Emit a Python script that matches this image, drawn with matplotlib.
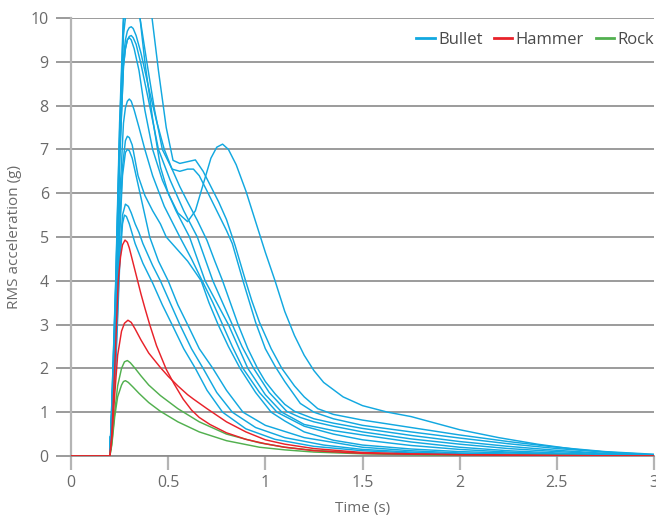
import numpy as np
import matplotlib
matplotlib.use('Agg')
import matplotlib.pyplot as plt

plt.rcParams['font.family'] = ['Open Sans', 'DejaVu Sans']

# ---------------------------------------------------------------
# Data: (time [s], RMS acceleration [g])
# ---------------------------------------------------------------

# Bullet impacts
bullet_bump_t = [0, 0.2, 0.21, 0.23, 0.25, 0.27, 0.285, 0.3, 0.315, 0.33, 0.355, 0.38, 0.42, 0.46, 0.5,
                 0.55, 0.6, 0.64, 0.68, 0.72, 0.75, 0.78, 0.81, 0.85, 0.9, 0.95, 0.975, 1.0, 1.05,
                 1.1, 1.15, 1.2, 1.25, 1.3, 1.4, 1.5, 1.63, 1.75, 1.9, 2.0, 2.2, 2.4, 2.6, 2.8, 3.0]
bullet_bump_y = [0, 0, 1.1, 3.8, 7.2, 9.6, 10.2, 10.4, 10.4, 10.3, 10.0, 9.0, 7.7, 6.6, 6.0,
                 5.55, 5.35, 5.6, 6.2, 6.8, 7.05, 7.12, 7.0, 6.65, 6.05, 5.35, 5.0, 4.65, 4.0,
                 3.3, 2.75, 2.3, 1.95, 1.68, 1.35, 1.15, 1.0, 0.9, 0.72, 0.6, 0.42, 0.27, 0.15, 0.07, 0.02]

bullet_p1_t = [0, 0.2, 0.21, 0.23, 0.25, 0.27, 0.29, 0.33, 0.37, 0.417, 0.45, 0.49, 0.525, 0.56, 0.6,
               0.64, 0.68, 0.72, 0.76, 0.8, 0.845, 0.895, 0.93, 0.97, 1.03, 1.085, 1.15, 1.2, 1.27,
               1.35, 1.5, 1.75, 2.0, 2.25, 2.5, 2.75, 3.0]
bullet_p1_y = [0, 0, 1.2, 4.0, 7.6, 10.1, 10.9, 11.2, 10.9, 10.0, 8.8, 7.5, 6.75, 6.68, 6.72,
               6.76, 6.5, 6.15, 5.8, 5.4, 4.8, 4.05, 3.55, 3.05, 2.45, 2.0, 1.6, 1.35, 1.08,
               0.95, 0.82, 0.65, 0.48, 0.33, 0.2, 0.1, 0.04]

bullet_p2_t = [0, 0.2, 0.21, 0.23, 0.25, 0.27, 0.29, 0.32, 0.355, 0.39, 0.43, 0.47, 0.52, 0.56, 0.6,
               0.63, 0.66, 0.7, 0.75, 0.8, 0.83, 0.885, 0.95, 1.0, 1.05, 1.1, 1.18, 1.25, 1.35,
               1.5, 1.75, 2.0, 2.25, 2.5, 2.75, 3.0]
bullet_p2_y = [0, 0, 1.2, 3.9, 7.4, 9.9, 10.6, 10.7, 10.0, 9.0, 7.9, 7.0, 6.55, 6.5, 6.55,
               6.55, 6.4, 6.05, 5.6, 5.15, 4.85, 4.0, 3.05, 2.45, 2.05, 1.7, 1.2, 1.0, 0.85,
               0.7, 0.55, 0.41, 0.28, 0.17, 0.09, 0.03]

bullet_m1_t = [0, 0.2, 0.21, 0.23, 0.25, 0.27, 0.28, 0.29, 0.3, 0.31, 0.32, 0.335, 0.36, 0.4, 0.44,
               0.48, 0.52, 0.56, 0.6, 0.65, 0.7, 0.74, 0.78, 0.82, 0.86, 0.91, 0.96, 1.0, 1.05,
               1.1, 1.15, 1.25, 1.35, 1.5, 1.75, 2.0, 2.25, 2.5, 2.75, 3.0]
bullet_m1_y = [0, 0, 1.0, 3.4, 6.9, 9.1, 9.5, 9.7, 9.78, 9.8, 9.76, 9.6, 9.2, 8.4, 7.65,
               7.0, 6.55, 6.15, 5.8, 5.38, 4.92, 4.45, 4.0, 3.5, 3.0, 2.45, 2.0, 1.7, 1.42,
               1.18, 1.02, 0.85, 0.75, 0.63, 0.47, 0.33, 0.22, 0.13, 0.06, 0.02]

bullet_m2_t = [0, 0.2, 0.21, 0.23, 0.25, 0.27, 0.28, 0.29, 0.3, 0.31, 0.32, 0.335, 0.36, 0.4, 0.45,
               0.51, 0.58, 0.65, 0.69, 0.73, 0.78, 0.83, 0.88, 0.94, 1.02, 1.11, 1.18, 1.25, 1.35,
               1.5, 1.75, 2.0, 2.25, 2.5, 2.75, 3.0]
bullet_m2_y = [0, 0, 1.0, 3.3, 6.8, 8.9, 9.3, 9.5, 9.58, 9.6, 9.55, 9.4, 8.95, 8.1, 7.0,
               6.3, 5.6, 5.0, 4.5, 4.0, 3.5, 3.0, 2.5, 2.0, 1.45, 1.02, 0.88, 0.78, 0.68,
               0.55, 0.39, 0.27, 0.17, 0.1, 0.05, 0.01]

bullet_m3_t = [0, 0.2, 0.21, 0.23, 0.25, 0.27, 0.28, 0.29, 0.3, 0.31, 0.325, 0.35, 0.38, 0.42, 0.47,
               0.54, 0.61, 0.65, 0.69, 0.75, 0.81, 0.86, 0.91, 1.0, 1.085, 1.2, 1.35, 1.5, 1.75,
               2.0, 2.25, 2.5, 2.75, 3.0]
bullet_m3_y = [0, 0, 1.0, 3.3, 6.7, 8.9, 9.3, 9.5, 9.55, 9.5, 9.3, 8.8, 7.9, 7.0, 6.3,
               5.6, 5.0, 4.5, 4.0, 3.5, 3.0, 2.5, 2.0, 1.4, 1.0, 0.72, 0.58, 0.48, 0.32,
               0.2, 0.12, 0.07, 0.03, 0.01]

bullet_m4_t = [0, 0.2, 0.21, 0.23, 0.25, 0.27, 0.28, 0.29, 0.3, 0.31, 0.325, 0.35, 0.38, 0.42, 0.48,
               0.56, 0.62, 0.675, 0.73, 0.78, 0.83, 0.885, 0.97, 1.06, 1.2, 1.35, 1.5, 1.75, 2.0,
               2.25, 2.5, 3.0]
bullet_m4_y = [0, 0, 0.9, 2.9, 5.8, 7.6, 7.95, 8.1, 8.15, 8.1, 7.9, 7.5, 7.0, 6.4, 5.7,
               5.0, 4.5, 4.0, 3.5, 3.0, 2.5, 2.0, 1.45, 1.0, 0.68, 0.5, 0.37, 0.24, 0.15,
               0.09, 0.05, 0.01]

bullet_kink_t = [0, 0.2, 0.21, 0.23, 0.25, 0.265, 0.28, 0.29, 0.3, 0.315, 0.345, 0.38, 0.42, 0.46, 0.49,
                 0.55, 0.6, 0.67, 0.71, 0.757, 0.81, 0.87, 0.95, 1.03, 1.1, 1.2, 1.35, 1.5, 1.75,
                 2.0, 2.5, 3.0]
bullet_kink_y = [0, 0, 0.8, 2.6, 5.2, 6.6, 7.2, 7.3, 7.27, 7.1, 6.4, 5.95, 5.6, 5.3, 5.0,
                 4.7, 4.45, 4.0, 3.5, 3.0, 2.5, 2.0, 1.45, 1.0, 0.8, 0.55, 0.36, 0.25, 0.16,
                 0.1, 0.04, 0.01]

bullet_l1_t = [0, 0.2, 0.21, 0.23, 0.25, 0.265, 0.28, 0.29, 0.3, 0.315, 0.35, 0.405, 0.45, 0.5, 0.55,
               0.6, 0.66, 0.73, 0.8, 0.885, 1.0, 1.2, 1.5, 1.75, 2.0, 2.5, 3.0]
bullet_l1_y = [0, 0, 0.8, 2.5, 5.0, 6.4, 6.93, 7.0, 6.97, 6.8, 6.1, 5.0, 4.45, 4.0, 3.45,
               3.0, 2.45, 2.0, 1.5, 1.0, 0.7, 0.42, 0.2, 0.12, 0.07, 0.02, 0.0]

bullet_l2_t = [0, 0.2, 0.202, 0.206, 0.21, 0.23, 0.25, 0.265, 0.28, 0.295, 0.31, 0.33, 0.35, 0.37, 0.42,
               0.46, 0.51, 0.56, 0.62, 0.68, 0.75, 0.83, 0.95, 1.1, 1.3, 1.5, 1.75, 2.0, 2.5, 3.0]
bullet_l2_y = [0, 0, 0.45, 0.15, 0.6, 2.2, 4.5, 5.5, 5.75, 5.7, 5.55, 5.3, 5.1, 4.85, 4.35,
               4.0, 3.5, 3.0, 2.45, 2.0, 1.45, 1.0, 0.65, 0.42, 0.25, 0.15, 0.09, 0.05, 0.02, 0.0]

bullet_l3_t = [0, 0.2, 0.21, 0.23, 0.25, 0.265, 0.275, 0.285, 0.3, 0.33, 0.37, 0.42, 0.47, 0.52, 0.58,
               0.64, 0.7, 0.78, 0.9, 1.05, 1.25, 1.5, 1.75, 2.0, 2.5, 3.0]
bullet_l3_y = [0, 0, 0.6, 2.0, 4.3, 5.3, 5.5, 5.47, 5.3, 4.85, 4.4, 3.95, 3.45, 3.0, 2.45,
               2.0, 1.5, 1.0, 0.62, 0.38, 0.22, 0.12, 0.07, 0.04, 0.01, 0.0]

# Hammer impacts
hammer_1_t = [0, 0.2, 0.21, 0.226, 0.243, 0.255, 0.265, 0.278, 0.29, 0.3, 0.32, 0.34, 0.36, 0.38, 0.405,
              0.44, 0.49, 0.53, 0.577, 0.62, 0.66, 0.715, 0.8, 0.9, 1.0, 1.1, 1.25, 1.5, 1.75, 2.0,
              2.5, 3.0]
hammer_1_y = [0, 0, 0.5, 2.1, 4.0, 4.55, 4.82, 4.93, 4.88, 4.75, 4.4, 4.05, 3.7, 3.38, 3.0,
              2.52, 1.98, 1.65, 1.3, 1.05, 0.88, 0.72, 0.53, 0.38, 0.28, 0.2, 0.12, 0.06, 0.04, 0.03,
              0.01, 0.0]

hammer_2_t = [0, 0.2, 0.21, 0.225, 0.24, 0.26, 0.275, 0.293, 0.31, 0.33, 0.36, 0.4, 0.46, 0.5, 0.55,
              0.6, 0.63, 0.7, 0.8, 0.9, 1.0, 1.1, 1.25, 1.5, 1.75, 2.0, 2.5, 3.0]
hammer_2_y = [0, 0, 0.4, 1.4, 2.3, 2.85, 3.03, 3.1, 3.05, 2.9, 2.65, 2.35, 2.02, 1.82, 1.6,
              1.4, 1.3, 1.08, 0.78, 0.55, 0.37, 0.27, 0.17, 0.08, 0.05, 0.03, 0.01, 0.0]

# Rock impacts
rock_1_t = [0, 0.2, 0.21, 0.225, 0.24, 0.26, 0.275, 0.29, 0.305, 0.33, 0.36, 0.4, 0.46, 0.55, 0.66,
            0.8, 0.97, 1.1, 1.25, 1.5, 1.75, 2.0, 3.0]
rock_1_y = [0, 0, 0.3, 1.0, 1.6, 2.0, 2.15, 2.18, 2.13, 2.0, 1.83, 1.62, 1.38, 1.08, 0.78,
            0.5, 0.3, 0.2, 0.13, 0.07, 0.04, 0.02, 0.0]

rock_2_t = [0, 0.2, 0.21, 0.225, 0.24, 0.26, 0.27, 0.28, 0.295, 0.32, 0.35, 0.4, 0.46, 0.55, 0.66,
            0.8, 0.97, 1.1, 1.25, 1.5, 1.75, 2.0, 3.0]
rock_2_y = [0, 0, 0.25, 0.9, 1.35, 1.62, 1.7, 1.72, 1.68, 1.57, 1.43, 1.22, 1.02, 0.78, 0.55,
            0.35, 0.2, 0.14, 0.09, 0.05, 0.03, 0.02, 0.0]

bullet_series = [(bullet_bump_t, bullet_bump_y), (bullet_p1_t, bullet_p1_y), (bullet_p2_t, bullet_p2_y),
                 (bullet_m1_t, bullet_m1_y), (bullet_m2_t, bullet_m2_y), (bullet_m3_t, bullet_m3_y),
                 (bullet_m4_t, bullet_m4_y), (bullet_kink_t, bullet_kink_y), (bullet_l1_t, bullet_l1_y),
                 (bullet_l2_t, bullet_l2_y), (bullet_l3_t, bullet_l3_y)]
hammer_series = [(hammer_1_t, hammer_1_y), (hammer_2_t, hammer_2_y)]
rock_series = [(rock_1_t, rock_1_y), (rock_2_t, rock_2_y)]

x_ticks = [0, 0.5, 1, 1.5, 2, 2.5, 3]
x_tick_labels = ['0', '0.5', '1', '1.5', '2', '2.5', '3']
y_ticks = list(range(0, 11))

# Colours
c_bullet = '#12a8e0'
c_hammer = '#e8222a'
c_rock = '#52b04f'
c_grid = '#8a8a8a'
c_axis = '#b4b4b4'
c_text = '#6a6a6a'

# ---------------------------------------------------------------
# Plot
# ---------------------------------------------------------------
fig = plt.figure(figsize=(6.56, 5.19), dpi=100)
ax = fig.add_axes([71 / 656, 63 / 519, 583 / 656, 438 / 519])

lw = 1.05
for i, (t, y) in enumerate(bullet_series):
    ax.plot(t, y, color=c_bullet, lw=lw, label='Bullet' if i == 0 else None, zorder=3)
for i, (t, y) in enumerate(hammer_series):
    ax.plot(t, y, color=c_hammer, lw=lw, label='Hammer' if i == 0 else None, zorder=5)
for i, (t, y) in enumerate(rock_series):
    ax.plot(t, y, color=c_rock, lw=lw, label='Rock' if i == 0 else None, zorder=4)

ax.set_xlim(0, 3)
ax.set_ylim(0, 10)
ax.set_xticks(x_ticks)
ax.set_xticklabels(x_tick_labels)
ax.set_yticks(y_ticks)

# horizontal gridlines only
ax.yaxis.grid(True, color=c_grid, lw=1.2, zorder=1)
ax.set_axisbelow(True)

for s in ['top', 'right']:
    ax.spines[s].set_visible(False)
ax.spines['left'].set_color(c_axis)
ax.spines['left'].set_linewidth(1.6)
ax.spines['left'].set_bounds(0, 10)
ax.spines['bottom'].set_color(c_grid)
ax.spines['bottom'].set_linewidth(1.2)

ax.tick_params(axis='y', length=11, width=1.2, color=c_grid, labelcolor=c_text, labelsize=11.5, pad=5)
ax.tick_params(axis='x', length=10, width=1.6, color=c_axis, labelcolor=c_text, labelsize=11.5, pad=4)

ax.set_xlabel('Time (s)', color=c_text, fontsize=11, labelpad=7)
ax.set_ylabel('RMS acceleration (g)', color=c_text, fontsize=11, labelpad=6)

leg = ax.legend(loc='center right', bbox_to_anchor=(1.0, 0.95), ncol=3, frameon=False,
                fontsize=12, handlelength=1.1, handletextpad=0.2, columnspacing=0.7,
                borderaxespad=0, borderpad=0)
for txt in leg.get_texts():
    txt.set_color('#4a4a4a')
for h in leg.get_lines():
    h.set_linewidth(2.0)

plt.savefig('out.png', dpi=100)
